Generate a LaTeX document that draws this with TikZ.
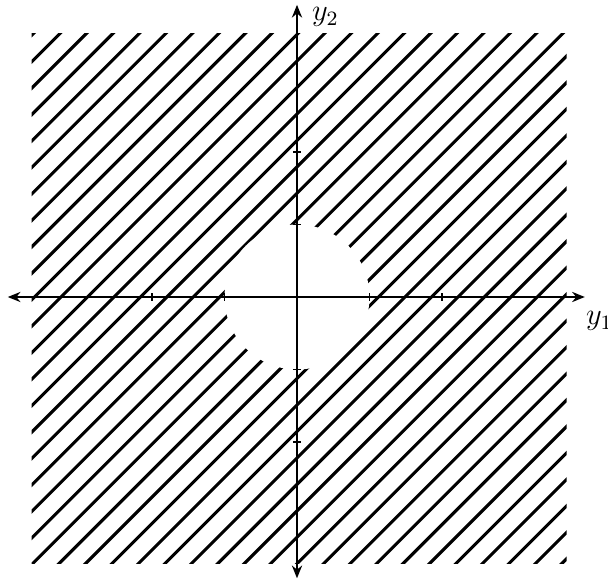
\documentclass[tikz,border=0pt]{standalone}
\usetikzlibrary{arrows.meta}
\begin{document}
\begin{tikzpicture}[x=1cm,y=1cm,
  hatch/.style={line width=1.2pt,black},
  axis/.style={line width=0.8pt,black,{Stealth[length=5pt,width=4pt]}-{Stealth[length=5pt,width=4pt]}},
  tick/.style={line width=0.6pt,black}]
\useasboundingbox (-4.097,-3.945) rectangle (4.290,4.097);
% hatched square
\begin{scope}
  \clip (-3.66,-3.68) rectangle (3.72,3.64);
  \foreach \k in {-22,...,22}{
    \pgfmathsetmacro{\c}{0.365*\k-0.03}
    \draw[hatch] (-4.5,-4.5+\c) -- (4.5,4.5+\c);
  }
\end{scope}
% white disc round the origin
\fill[white] (0,0) circle (1);
% axes
\coordinate (xl) at (-3.99,0);
\coordinate (xr) at (3.97,0);
\coordinate (yb) at (0,-3.88);
\coordinate (yt) at (0,4.03);
\draw[axis] (xl) -- (xr);
\draw[axis] (yb) -- (yt);
% ticks
\foreach \t in {-2,-1,1,2}{
  \draw[tick] (\t,-0.05) -- (\t,0.05);
  \draw[tick] (-0.05,\t) -- (0.05,\t);
}
\node[anchor=west,inner sep=0pt] (ly1) at (3.98,-0.33) {\large $y_1$};
\node[anchor=west,inner sep=0pt] (ly2) at (0.20,3.86) {\large $y_2$};
\end{tikzpicture}
\end{document}
